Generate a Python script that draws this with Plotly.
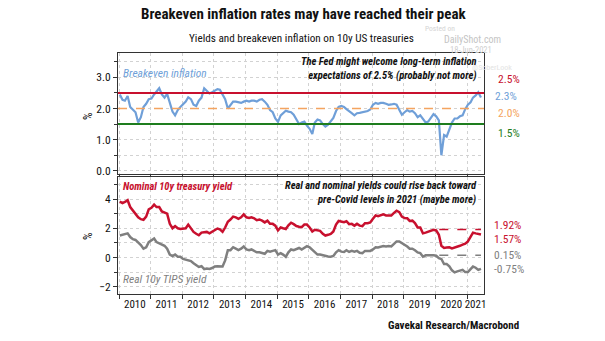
import pandas as pd
import plotly.graph_objects as go

# ---------------- data ----------------
months = pd.date_range("2010-01-01", "2021-06-01", freq="MS") + pd.Timedelta(days=9)

breakeven = [
    2.45, 2.28, 2.25, 2.40, 2.05, 1.95, 1.88, 1.55, 1.72, 2.05, 2.15, 2.30,  # 2010
    2.32, 2.45, 2.55, 2.65, 2.45, 2.35, 2.47, 2.20, 1.90, 1.78, 1.95, 2.05,  # 2011
    2.12, 2.22, 2.36, 2.30, 2.12, 2.08, 2.25, 2.35, 2.65, 2.58, 2.48, 2.52,  # 2012
    2.58, 2.62, 2.60, 2.42, 2.30, 2.00, 2.12, 2.22, 2.22, 2.20, 2.18, 2.22,  # 2013
    2.25, 2.22, 2.25, 2.25, 2.22, 2.28, 2.30, 2.22, 2.12, 1.95, 1.88, 1.68,  # 2014
    1.57, 1.78, 1.85, 1.93, 1.90, 1.88, 1.80, 1.65, 1.50, 1.55, 1.58, 1.45,  # 2015
    1.35, 1.18, 1.55, 1.65, 1.62, 1.50, 1.42, 1.48, 1.58, 1.70, 1.92, 2.05,  # 2016
    2.08, 2.05, 1.98, 1.90, 1.85, 1.78, 1.85, 1.86, 1.88, 1.92, 1.92, 1.97,  # 2017
    2.12, 2.18, 2.15, 2.18, 2.18, 2.15, 2.12, 2.13, 2.15, 2.12, 1.98, 1.80,  # 2018
    1.88, 1.95, 1.90, 1.92, 1.85, 1.72, 1.78, 1.65, 1.55, 1.58, 1.70, 1.82,  # 2019
    1.75, 1.62, 0.50, 1.15, 1.10, 1.35, 1.55, 1.68, 1.68, 1.75, 1.78, 1.98,  # 2020
    2.12, 2.20, 2.35, 2.42, 2.52, 2.35,                                      # 2021
]

nominal = [
    3.82, 3.72, 3.80, 3.92, 3.45, 3.20, 3.00, 2.75, 2.62, 2.58, 2.80, 3.30,
    3.40, 3.62, 3.45, 3.45, 3.15, 3.05, 3.00, 2.30, 2.00, 2.15, 2.00, 1.95,
    1.95, 2.00, 2.25, 2.00, 1.75, 1.62, 1.52, 1.70, 1.72, 1.75, 1.65, 1.75,
    1.90, 1.98, 1.92, 1.75, 2.05, 2.45, 2.60, 2.80, 2.75, 2.65, 2.75, 2.95,
    2.75, 2.70, 2.75, 2.68, 2.55, 2.60, 2.52, 2.40, 2.52, 2.30, 2.30, 2.18,
    1.85, 2.05, 2.00, 1.95, 2.20, 2.38, 2.28, 2.15, 2.10, 2.08, 2.25, 2.25,
    2.05, 1.78, 1.90, 1.85, 1.82, 1.62, 1.50, 1.55, 1.62, 1.78, 2.25, 2.50,
    2.45, 2.42, 2.48, 2.28, 2.30, 2.18, 2.30, 2.18, 2.15, 2.35, 2.35, 2.40,
    2.65, 2.88, 2.82, 2.90, 2.95, 2.88, 2.90, 2.88, 3.05, 3.20, 3.10, 2.80,
    2.70, 2.68, 2.50, 2.52, 2.35, 2.05, 2.05, 1.65, 1.70, 1.75, 1.85, 1.90,
    1.85, 1.55, 0.80, 0.65, 0.68, 0.70, 0.62, 0.68, 0.70, 0.80, 0.88, 0.95,
    1.10, 1.40, 1.70, 1.65, 1.62, 1.57,
]

real = [
    1.50, 1.55, 1.60, 1.65, 1.40, 1.25, 1.20, 1.05, 0.85, 0.60, 0.70, 1.05,
    1.20, 1.30, 1.05, 0.95, 0.85, 0.80, 0.60, 0.20, 0.10, 0.20, 0.05, 0.05,
    -0.10, -0.15, -0.15, -0.25, -0.40, -0.50, -0.65, -0.60, -0.80, -0.75, -0.78, -0.72,
    -0.62, -0.60, -0.60, -0.62, -0.20, 0.50, 0.50, 0.70, 0.60, 0.50, 0.60, 0.75,
    0.55, 0.50, 0.55, 0.45, 0.35, 0.35, 0.28, 0.25, 0.45, 0.40, 0.45, 0.50,
    0.20, 0.30, 0.20, 0.05, 0.35, 0.55, 0.50, 0.55, 0.65, 0.55, 0.70, 0.78,
    0.70, 0.55, 0.35, 0.20, 0.20, 0.15, 0.08, 0.07, 0.05, 0.10, 0.35, 0.50,
    0.40, 0.38, 0.50, 0.38, 0.45, 0.40, 0.45, 0.32, 0.30, 0.45, 0.45, 0.45,
    0.55, 0.70, 0.68, 0.72, 0.78, 0.75, 0.78, 0.75, 0.90, 1.10, 1.10, 1.00,
    0.85, 0.75, 0.60, 0.60, 0.50, 0.35, 0.30, 0.05, 0.15, 0.15, 0.20, 0.15,
    0.12, -0.05, -0.10, -0.45, -0.45, -0.60, -0.88, -1.02, -0.95, -0.90, -0.85, -1.00,
    -1.00, -0.80, -0.62, -0.70, -0.85, -0.78,
]

fed_ceiling, fed_target, fed_floor = 2.5, 2.0, 1.5
precovid_date = "2020-02-15"
precovid_nominal, precovid_real = 1.92, 0.15
last_be, last_nominal, last_real = 2.3, 1.57, -0.75

years = list(range(2010, 2022))
x_start, x_end = "2009-12-20", "2021-07-15"

# ---------------- style ----------------
FONT = "Liberation Sans Narrow, Roboto Condensed, Arial Narrow, Roboto, sans-serif"
RED = "#c8102e"
BLUE = "#6f9fd8"
ORANGE = "#f4a460"
GREEN = "#1e7d1e"
GREY = "#7f7f7f"
GRID = "#d2d2d2"
AX = "#333333"

fig = go.Figure()

fig.add_trace(go.Scatter(x=months, y=breakeven, mode="lines",
                         line=dict(color=BLUE, width=2.2), xaxis="x", yaxis="y"))
fig.add_trace(go.Scatter(x=months, y=nominal, mode="lines",
                         line=dict(color=RED, width=2.5), xaxis="x2", yaxis="y2"))
fig.add_trace(go.Scatter(x=months, y=real, mode="lines",
                         line=dict(color=GREY, width=2.5), xaxis="x2", yaxis="y2"))
fig.add_trace(go.Scatter(x=[precovid_date, months[-1]], y=[precovid_nominal] * 2, mode="lines",
                         line=dict(color=RED, width=1.5, dash="dash"), xaxis="x2", yaxis="y2"))
fig.add_trace(go.Scatter(x=[precovid_date, months[-1]], y=[precovid_real] * 2, mode="lines",
                         line=dict(color=GREY, width=1.5, dash="dash"), xaxis="x2", yaxis="y2"))

for val, col, dash in [(fed_ceiling, RED, "solid"), (fed_target, ORANGE, "dash"), (fed_floor, GREEN, "solid")]:
    fig.add_shape(type="line", xref="x domain", yref="y", x0=0, x1=1, y0=val, y1=val,
                  line=dict(color=col, width=2 if dash == "solid" else 1.5, dash=dash), layer="above")

year_starts = [f"{y}-01-01" for y in years]
mid = []
for y in years:
    a = pd.Timestamp(f"{y}-01-01")
    b = min(pd.Timestamp(f"{y + 1}-01-01"), pd.Timestamp(x_end))
    mid.append(a + (b - a) / 2)

xcommon = dict(range=[x_start, x_end], showline=True, mirror=True, linecolor=AX, linewidth=1,
               showgrid=False, zeroline=False, tickangle=0,
               minor=dict(tickvals=year_starts, ticks="outside", ticklen=4, tickcolor=AX,
                          showgrid=True, gridcolor=GRID, griddash="dot", gridwidth=1))

ycommon = dict(ticks="outside", ticklen=4, tickcolor=AX,
               showline=True, mirror=True, linecolor=AX, zeroline=False,
               showgrid=True, gridcolor=GRID, griddash="dot",
               tickfont=dict(size=11.5, family=FONT, color="#111"))

fig.update_layout(
    width=605, height=341,
    margin=dict(l=118, r=121, t=53, b=47),
    paper_bgcolor="white", plot_bgcolor="white",
    showlegend=False,
    font=dict(family=FONT, color="#111", size=11),
    xaxis=dict(**xcommon, anchor="y", tickvals=mid, ticktext=[""] * len(mid), ticks=""),
    xaxis2=dict(**xcommon, anchor="y2", matches="x", tickvals=mid, ticktext=[str(y) for y in years],
                ticks="", tickfont=dict(size=11, family=FONT, color="#111")),
    yaxis=dict(**ycommon, domain=[0.498, 1], range=[-0.1, 3.78], tickvals=[0, 1, 2, 3],
               ticktext=["0.0", "1.0", "2.0", "3.0"],
               minor=dict(dtick=0.5, tick0=0, ticks="outside", ticklen=3, tickcolor=AX,
                          showgrid=True, gridcolor=GRID, griddash="dot")),
    yaxis2=dict(**ycommon, domain=[0, 0.485], range=[-2.5, 5.5], tickvals=[-2, 0, 2, 4],
                minor=dict(dtick=1, tick0=0, ticks="outside", ticklen=3, tickcolor=AX,
                           showgrid=True, gridcolor=GRID, griddash="dot")),
)

W, H, L, R, T, B = 605, 341, 118, 121, 53, 47
pw, ph = W - L - R, H - T - B
ann = []

def P(text, x, y, color, size=10.5, xanchor="left", align="left", **kw):
    d = dict(text=text, x=(x - L) / pw, y=(H - B - y) / ph, xref="paper", yref="paper",
             showarrow=False, xanchor=xanchor, yanchor="middle", align=align,
             font=dict(size=size, family=FONT, color=color))
    d.update(kw)
    ann.append(d)

# watermark (drawn first, beneath)
P("Posted on", 440, 29, "#d4d4d4", 7.5, xanchor="center")
P("DailyShot.com", 472, 40, "#c4c4c4", 10, xanchor="center")
P("18-Jun-2021", 471, 50, "#d0d0d0", 8.5, xanchor="center")
P("@SoberLook", 492, 67, "#e4e4e4", 8, xanchor="center")

# titles
P("<b>Breakeven inflation rates may have reached their peak</b>", 304, 14, "#111", 15, xanchor="center")
P("Yields and breakeven inflation on 10y US treasuries", 301, 38, "#111", 11.2, xanchor="center")
P("<b>Gavekal Research/Macrobond</b>", 453, 325, "#111", 11, xanchor="center")

P("<i>Breakeven inflation</i>", 121, 73, BLUE, 11.5)
P("<b><i>The Fed might welcome long-term inflation<br>expectations of 2.5% (probably not more)</i></b>",
  479, 68, "#111", 10.5, xanchor="right", align="right")
P("<b><i>Nominal 10y treasury yield</i></b>", 121, 186, RED, 10.5)
P("<b><i>Real and nominal yields could rise back toward<br>pre-Covid levels in 2021 (maybe more)</i></b>",
  479, 192, "#111", 10.5, xanchor="right", align="right")
P("<i>Real 10y TIPS yield</i>", 121, 279, GREY, 11.5)

P(f"{fed_ceiling:.1f}%", 496, 79, RED, 11.5)
P(f"{last_be:.1f}%", 493, 96, BLUE, 11.5)
P(f"{fed_target:.1f}%", 496, 113, ORANGE, 11.5)
P(f"{fed_floor:.1f}%", 496, 133, GREEN, 11.5)
P(f"{precovid_nominal:.2f}%", 492, 225, RED, 11.5)
P(f"{last_nominal:.2f}%", 492, 239, RED, 11.5)
P(f"{precovid_real:.2f}%", 492, 255, GREY, 11.5)
P(f"{last_real:.2f}%", 492, 269, GREY, 11.5)

P("%", 88, 116, "#111", 12, xanchor="center", textangle=-90)
P("%", 88, 236, "#111", 12, xanchor="center", textangle=-90)

fig.update_layout(annotations=ann)
fig.write_html("out.html")
